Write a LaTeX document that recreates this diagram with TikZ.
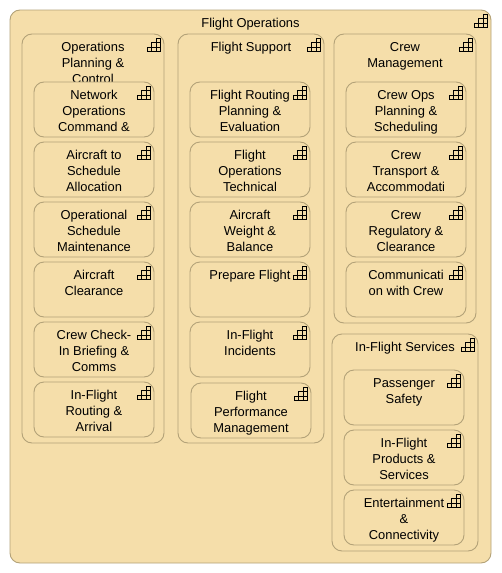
\documentclass[tikz,border=0pt]{standalone}
\usepackage{fontspec}
\setmainfont{Liberation Sans}
\usetikzlibrary{calc}

\definecolor{capfill}{HTML}{F5DEAA}
\definecolor{capline}{HTML}{B3A278}

\tikzset{
  capbox/.style = {draw=capline, fill=capfill, line width=.9pt, rounded corners=10pt, inner sep=0pt},
  outerbox/.style = {capbox, minimum width=481pt, minimum height=553pt},
  childbox/.style = {capbox, minimum width=120pt, minimum height=55pt},
  captext/.style = {anchor=north, inner sep=0pt, align=center, yshift=-8.4pt,
                    font=\fontsize{12.9}{16}\selectfont, execute at begin node={\rule{0pt}{10pt}}},
  stairs/.pic = {
    \draw[line width=.8pt, black] (0,0) -- (0,4.33) -- (4.33,4.33) -- (4.33,8.67) -- (8.67,8.67)
      -- (8.67,13) -- (13,13) -- (13,0) -- cycle;
    \draw[line width=.8pt, black] (0,4.33) -- (13,4.33) (4.33,8.67) -- (13,8.67)
      (4.33,0) -- (4.33,4.33) (8.67,0) -- (8.67,8.67);
  }
}

\begin{document}
\begin{tikzpicture}[x=1pt, y=1pt, node distance = 60pt]
  \useasboundingbox (0,0) rectangle (501,-573);

  \node[outerbox] at (250.5,-286.5) (flightops) {};
  \node[captext, yshift=1pt] at (flightops.north) (flightopstxt) {Flight Operations};

  % groups
  \node[capbox, minimum width=142pt, minimum height=409pt] at (93,-238.5) (opsplan) {};
  \node[capbox, minimum width=146pt, minimum height=409pt] at (251,-238.5) (support) {};
  \node[capbox, minimum width=142pt, minimum height=289pt] at (405,-178.5) (crew) {};
  \node[capbox, minimum width=146pt, minimum height=217pt] at (405,-442.5) (inflight) {};

  \node[captext] at (opsplan.north) (opsplantxt) {Operations\\Planning \&\\Control};
  \node[captext, yshift=1pt] at (support.north) (supporttxt) {Flight Support};
  \node[captext] at (crew.north) (crewtxt) {Crew\\Management};
  \node[captext, yshift=1pt] at (inflight.north) (inflighttxt) {In-Flight Services};

  % first column
  \node[childbox] at (94,-109.5) (network) {};
  \node[childbox, below of = network] (tail) {};
  \node[childbox, below of = tail] (opsched) {};
  \node[childbox, below of = opsched] (clearance) {};
  \node[childbox, below of = clearance] (briefing) {};
  \node[childbox, below of = briefing] (arrival) {};

  % second column
  \node[childbox] at (250,-109.5) (routing) {};
  \node[childbox, below of = routing] (technical) {};
  \node[childbox, below of = technical] (weight) {};
  \node[childbox, below of = weight] (prepare) {};
  \node[childbox, below of = prepare] (incidents) {};
  \node[childbox, below of = incidents, xshift=1pt, yshift=-1pt] (perform) {};

  % third column
  \node[childbox] at (406,-109.5) (crewops) {};
  \node[childbox, below of = crewops] (transport) {};
  \node[childbox, below of = transport] (regulatory) {};
  \node[childbox, below of = regulatory] (comms) {};

  % in-flight services
  \node[childbox] at (404,-397.5) (safety) {};
  \node[childbox, below of = safety] (products) {};
  \node[childbox, below of = products] (entertain) {};

  \foreach \b/\t in {network/{Network\\Operations\\Command \&},
                     tail/{Aircraft to\\Schedule\\Allocation},
                     opsched/{Operational\\Schedule\\Maintenance},
                     clearance/{Aircraft\\Clearance},
                     briefing/{Crew Check-\\In Briefing \&\\Comms},
                     arrival/{In-Flight\\Routing \&\\Arrival},
                     routing/{Flight Routing\\Planning \&\\Evaluation},
                     technical/{Flight\\Operations\\Technical},
                     weight/{Aircraft\\Weight \&\\Balance},
                     incidents/{In-Flight\\Incidents},
                     perform/{Flight\\Performance\\Management},
                     crewops/{Crew Ops\\Planning \&\\Scheduling},
                     transport/{Crew\\Transport \&\\Accommodati},
                     regulatory/{Crew\\Regulatory \&\\Clearance},
                     comms/{Communicati\\on with Crew},
                     safety/{Passenger\\Safety},
                     products/{In-Flight\\Products \&\\Services},
                     entertain/{Entertainment\\\&\\Connectivity}} {
    \begin{scope}
      \clip (\b.north west) rectangle ($(\b.south east)+(0,4.3)$);
      \node[captext] at (\b.north) (\b txt) {\t};
    \end{scope}
  }
  \node[captext, yshift=1pt] at (prepare.north) (preparetxt) {Prepare Flight};

  % the little stairs in each corner
  \foreach \b in {flightops,opsplan,support,crew,inflight,network,tail,opsched,clearance,briefing,
                  arrival,routing,technical,weight,prepare,incidents,perform,crewops,transport,
                  regulatory,comms,safety,products,entertain}
    \pic at ($(\b.north east)+(-17,-18)$) {stairs};
\end{tikzpicture}
\end{document}
